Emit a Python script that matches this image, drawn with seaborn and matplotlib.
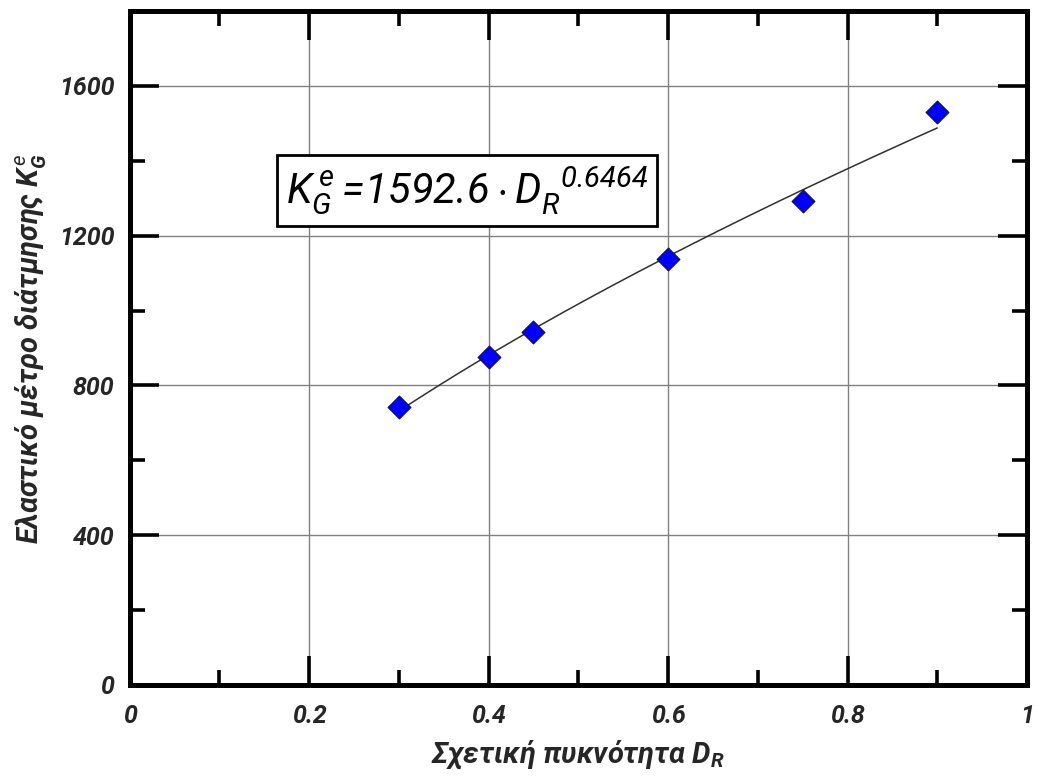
import numpy as np
import pandas as pd
import matplotlib
matplotlib.use("Agg")
import matplotlib.pyplot as plt
from matplotlib.ticker import MultipleLocator
import seaborn as sns

# Measured elastic shear modulus vs relative density
relative_density = [0.3, 0.4, 0.45, 0.6, 0.75, 0.9]
shear_modulus = [743, 875, 943, 1137, 1293, 1531]

# Power-law fit  K = a * D^b
fit_coef = 1592.6
fit_exp = 0.6464

x_ticks = [0, 0.2, 0.4, 0.6, 0.8, 1.0]
x_tick_labels = ["0", "0.2", "0.4", "0.6", "0.8", "1"]
y_ticks = [0, 400, 800, 1200, 1600]
y_tick_labels = ["0", "400", "800", "1200", "1600"]

sns.set_style("white")
FONT = "Roboto"
plt.rcParams["font.family"] = [FONT, "DejaVu Sans"]
plt.rcParams["mathtext.fontset"] = "custom"
plt.rcParams["mathtext.rm"] = f"{FONT}:italic"
plt.rcParams["mathtext.it"] = f"{FONT}:italic"
plt.rcParams["mathtext.bf"] = f"{FONT}:bold:italic"
plt.rcParams["mathtext.bfit"] = f"{FONT}:bold:italic"

df = pd.DataFrame({"DR": relative_density, "K": shear_modulus})
d_fit = np.linspace(min(relative_density), max(relative_density), 200)
fit_df = pd.DataFrame({"DR": d_fit, "K": fit_coef * d_fit ** fit_exp})

fig = plt.figure(figsize=(10.37, 7.76), dpi=100)
ax = fig.add_axes([0.1249, 0.1173, 0.9904 - 0.1249, 0.9858 - 0.1173])

sns.lineplot(data=fit_df, x="DR", y="K", ax=ax, color="#303030",
             linewidth=1.1, zorder=3)
sns.scatterplot(data=df, x="DR", y="K", ax=ax, marker="D", s=135,
                color="#0000ff", edgecolor="#101040", linewidth=0.8,
                zorder=4)

ax.set_xlim(0, 1)
ax.set_ylim(0, 1800)
ax.set_xticks(x_ticks)
ax.set_xticklabels(x_tick_labels)
ax.set_yticks(y_ticks)
ax.set_yticklabels(y_tick_labels)
ax.xaxis.set_minor_locator(MultipleLocator(0.1))
ax.yaxis.set_minor_locator(MultipleLocator(200))

ax.grid(True, which="major", color="#808080", linewidth=1.0, zorder=1)
ax.set_axisbelow(True)

for sp in ax.spines.values():
    sp.set_visible(True)
    sp.set_linewidth(3.6)
    sp.set_color("black")

ax.tick_params(which="both", direction="in", top=True, right=True,
               bottom=True, left=True, color="black")
ax.tick_params(which="major", length=21, width=2.6, pad=14)
ax.tick_params(which="minor", length=11, width=2.6)
for lab in ax.get_xticklabels() + ax.get_yticklabels():
    lab.set_fontsize(18)
    lab.set_fontweight("bold")
    lab.set_fontstyle("italic")
ax.tick_params(axis="y", pad=11)

ax.set_xlabel(r"Σχετική πυκνότητα $\mathbfit{D}_{\mathbfit{R}}$",
              fontsize=21, fontweight="bold", fontstyle="italic", labelpad=7)
ax.set_ylabel(r"Ελαστικό μέτρο διάτμησης $\mathbfit{K}_{\mathbfit{G}}^{\,\mathit{e}}$",
              fontsize=21, fontweight="bold", fontstyle="italic", labelpad=8)

ax.text(0.174, 0.734,
        r"$K_{G}^{\,e}\,\!=\!\mathit{1592.6}\cdot D_{R}^{\ \ \mathit{0.6464}}$",
        transform=ax.transAxes, fontsize=30, ha="left", va="center",
        color="black",
        bbox=dict(boxstyle="square,pad=0.22", facecolor="white",
                  edgecolor="black", linewidth=2.0), zorder=5)

fig.savefig("out.png", dpi=100)
